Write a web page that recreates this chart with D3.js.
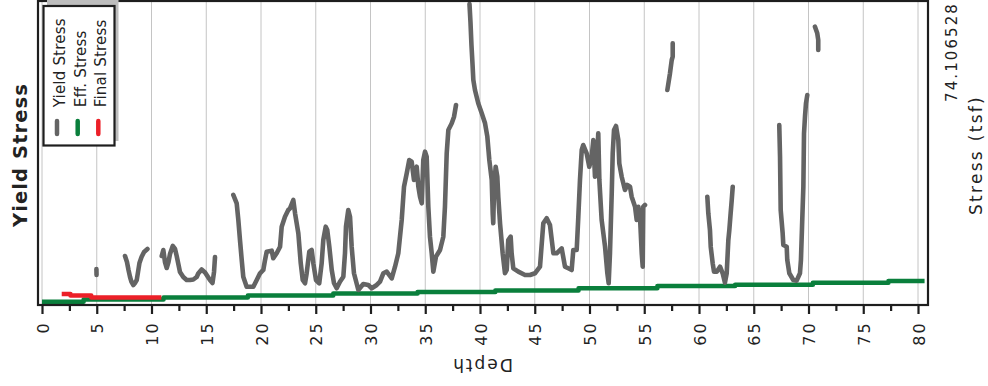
<!DOCTYPE html>
<html>
<head>
<meta charset="utf-8">
<script src="https://cdn.jsdelivr.net/npm/d3@7"></script>
<style>
  html, body { margin: 0; padding: 0; background: #fff; }
  svg { display: block; font-family: "DejaVu Sans", sans-serif; }
</style>
</head>
<body>
<svg id="chart" width="988" height="386"></svg>
<script>
// Depth (horizontal) vs stress (vertical) profile, drawn in a turned layout.
const depthTicks = [0, 5, 10, 15, 20, 25, 30, 35, 40, 45, 50, 55, 60, 65, 70, 75, 80];
const depthMinorTicks = [2.5, 7.5, 12.5, 17.5, 22.5, 27.5, 32.5, 37.5, 42.5, 47.5, 52.5, 57.5, 62.5, 67.5, 72.5, 77.5];
const stressMax = 74.106528;
const stressTickLabels = ["74.106528"];

// Yield stress trace; null marks a break in the record.
const yieldDepth = [
  4.97, 4.98, null,
  7.58, 7.76, 7.90, 8.04, 8.17, 8.34, 8.49, 8.65, 8.77, 8.90, 9.09, 9.32, 9.63, null,
  10.93, 11.08, 11.23, 11.39, 11.55, 11.69, 11.94, 12.15, 12.30, 12.47, 12.60, 12.90, 13.21, 13.52, 13.82,
  14.13, 14.27, 14.58, 14.89, 15.16, 15.34, 15.57, 15.71, 15.80, null,
  17.47, 17.78, 17.93, 18.08, 18.24, 18.38, 18.69, 19.30, 19.61, 19.91, 20.21, 20.37, 20.52, 20.98, 21.12,
  21.43, 21.74, 21.89, 22.19, 22.49, 22.65, 22.95, 23.11, 23.41, 23.63, 23.81, 24.02, 24.17, 24.41, 24.63,
  24.78, 25.02, 25.32, 25.54, 25.69, 25.91, 26.05, 26.24, 26.46, 26.67, 26.91, 27.21, 27.52, 27.67, 27.76,
  27.97, 28.13, 28.28, 28.49, 28.89, 29.34, 29.80, 30.11, 30.57, 30.87, 31.17, 31.48, 31.94, 32.24, 32.54,
  32.85, 33.06, 33.31, 33.54, 33.76, 33.97, 34.22, 34.37, 34.52, 34.68, 34.82, 34.98, 35.13, 35.28, 35.43,
  35.59, 35.74, 35.98, 36.35, 36.65, 36.80, 36.96, 37.11, 37.42, 37.63, 37.81, null,
  39.04, 39.13, 39.22, 39.32, 39.39, 39.54, 39.84, 40.16, 40.46, 40.67, 40.85, 41.07, 41.16, 41.21, 41.28,
  41.43, 41.58, 41.67, 41.83, 42.07, 42.28, 42.44, 42.58, 42.80, 42.89, 43.04, 43.50, 44.11, 44.57, 45.02,
  45.48, 45.78, 46.09, 46.39, 46.70, 47.00, 47.46, 47.76, 48.06, 48.37, 48.52, 48.83, 48.98, 49.13, 49.29,
  49.43, 49.74, 49.98, 50.20, 50.35, 50.50, 50.66, 50.80, 50.90, 51.11, 51.42, 51.63, 51.75, 51.87, 52.03,
  52.12, 52.24, 52.42, 52.63, 52.72, 52.94, 53.24, 53.45, 53.70, 53.85, 54.16, 54.31, 54.46, 54.61, 54.77,
  54.86, 54.91, 55.07, null,
  57.11, 57.35, 57.51, 57.60, 57.60, null,
  60.76, 60.85, 61.00, 61.07, 61.25, 61.37, 61.62, 61.92, 62.16, 62.37, 62.53, 62.68, 62.77, 62.89, 62.99,
  63.08, null,
  67.33, 67.40, 67.46, 67.64, 67.70, 68.01, 68.06, 68.25, 68.61, 68.92, 69.22, 69.31, 69.41, 69.53, 69.59,
  69.68, 69.77, 69.89, null,
  70.59, 70.80, 70.89, 70.89
];
const yieldStress = [
  8.2, 6.7, null,
  11.44, 9.95, 7.96, 6.22, 5.00, 4.23, 4.73, 5.47, 7.46, 9.70, 11.19, 12.44, 13.18, null,
  11.44, 12.93, 9.95, 8.46, 9.95, 11.94, 13.93, 13.18, 11.44, 9.20, 7.46, 6.22, 5.47, 5.47, 5.60,
  6.22, 7.09, 8.08, 7.34, 6.22, 5.47, 4.73, 7.46, 11.19, null,
  26.61, 24.55, 20.39, 15.42, 10.45, 6.29, 3.80, 3.80, 5.47, 7.14, 7.96, 10.45, 12.51, 12.76, 10.87,
  12.11, 13.75, 18.73, 21.21, 22.88, 23.30, 25.37, 22.06, 17.08, 9.62, 5.47, 4.65, 7.14, 12.51, 12.93,
  9.62, 5.47, 4.65, 9.62, 15.42, 18.73, 17.91, 13.75, 7.96, 4.65, 3.41, 5.05, 6.29, 12.11, 18.73,
  22.88, 21.21, 13.75, 7.14, 2.98, 4.48, 4.23, 3.41, 4.23, 5.05, 7.14, 7.54, 5.89, 8.78, 12.11,
  20.39, 28.67, 32.01, 35.31, 34.89, 30.34, 33.65, 28.67, 26.19, 24.55, 35.31, 37.38, 36.13, 23.70, 16.24,
  12.11, 7.54, 11.27, 12.93, 16.24, 23.70, 36.98, 42.78, 44.44, 46.08, 48.99, null,
  74.106528, 69.63, 63.91, 58.94, 55.21, 52.72, 49.42, 46.93, 44.44, 41.11, 35.31, 30.34, 22.06, 19.57, 27.85,
  33.65, 31.16, 26.19, 19.57, 12.11, 7.14, 7.96, 15.42, 16.24, 12.11, 8.38, 7.54, 6.71, 6.71, 7.14,
  8.78, 19.57, 20.82, 19.15, 12.11, 12.11, 13.35, 8.78, 8.38, 7.96, 12.93, 12.93, 21.21, 30.34, 37.80,
  39.04, 36.98, 33.65, 36.13, 40.29, 31.16, 33.65, 41.95, 30.34, 20.39, 13.75, 7.14, 4.65, 12.11, 27.03,
  36.98, 42.78, 43.77, 40.29, 34.49, 31.16, 27.85, 29.10, 28.67, 26.19, 23.70, 20.39, 23.70, 21.21, 12.11,
  8.78, 23.70, 24.12, null,
  52.72, 56.88, 60.18, 61.00, 64.34, null,
  26.19, 22.06, 17.91, 13.75, 9.62, 7.54, 7.54, 8.78, 7.14, 4.80, 7.14, 15.42, 17.91, 22.06, 25.37,
  28.67, null,
  44.02, 36.13, 22.88, 17.08, 14.18, 13.75, 10.45, 7.14, 5.47, 5.30, 7.14, 10.45, 18.73, 28.67, 41.95,
  46.08, 49.42, 51.48, null,
  68.46, 66.82, 65.16, 62.67
];

// Effective stress, stepped by layer.
const effDepth  = [0, 3.8, 11.1, 18.8, 26.6, 34.3, 41.4, 49.0, 56.2, 63.3, 70.4, 77.3, 80.6];
const effStress = [0.07, 0.62, 1.12, 1.62, 2.11, 2.49, 2.86, 3.41, 3.98, 4.30, 4.80, 5.22, 5.22];

// Final stress over the loaded zone.
const finalDepth  = [1.8, 2.6, 4.5, 10.9];
const finalStress = [1.99, 1.62, 1.12, 1.12];

const legendItems = [
  { label: "Yield Stress", color: "#646464" },
  { label: "Eff. Stress",  color: "#0a7f3c" },
  { label: "Final Stress", color: "#ec2028" }
];

const svg = d3.select("#chart");

const frame = { left: 38, right: 928, top: 1, bottom: 305 };
const x = d3.scaleLinear().domain([0, 80]).range([42, 918]);
const y = d3.scaleLinear().domain([0, stressMax]).range([302, 4]);

// Grid lines at each major depth tick
svg.append("g")
  .selectAll("line")
  .data(depthTicks)
  .join("line")
  .attr("x1", d => x(d)).attr("x2", d => x(d))
  .attr("y1", frame.top).attr("y2", frame.bottom)
  .attr("stroke", "#c4c4c4")
  .attr("stroke-width", 1);

// Lines
function series(depths, values) {
  return depths.map((d, i) => ({ d, v: values[i] }));
}
const line = d3.line()
  .defined(p => p.d !== null && p.v !== null)
  .x(p => x(p.d))
  .y(p => y(p.v));
const stepLine = d3.line()
  .x(p => x(p.d))
  .y(p => y(p.v))
  .curve(d3.curveStepAfter);

svg.append("path")
  .datum(series(effDepth, effStress))
  .attr("d", stepLine)
  .attr("fill", "none")
  .attr("stroke", legendItems[1].color)
  .attr("stroke-width", 4.5)
  .attr("stroke-linejoin", "round");

svg.append("path")
  .datum(series(finalDepth, finalStress))
  .attr("d", stepLine)
  .attr("fill", "none")
  .attr("stroke", legendItems[2].color)
  .attr("stroke-width", 4.5)
  .attr("stroke-linejoin", "round");

svg.append("path")
  .datum(series(yieldDepth, yieldStress))
  .attr("d", line)
  .attr("fill", "none")
  .attr("stroke", legendItems[0].color)
  .attr("stroke-width", 4.6)
  .attr("stroke-linejoin", "round")
  .attr("stroke-linecap", "round");

// Plot frame
svg.append("rect")
  .attr("x", frame.left).attr("y", frame.top)
  .attr("width", frame.right - frame.left)
  .attr("height", frame.bottom - frame.top)
  .attr("fill", "none")
  .attr("stroke", "#1e1e1e")
  .attr("stroke-width", 2.2);

// Depth axis (major ticks with labels, minor ticks without)
const depthAxis = svg.append("g")
  .attr("transform", `translate(0,${frame.bottom})`)
  .call(d3.axisBottom(x).tickValues(depthTicks).tickSize(9).tickSizeOuter(0).tickFormat(d3.format("d")));
depthAxis.select(".domain").remove();
depthAxis.selectAll(".tick line").attr("stroke", "#1e1e1e").attr("stroke-width", 2.2);
depthAxis.selectAll(".tick text")
  .attr("font-family", "DejaVu Sans, sans-serif")
  .attr("font-size", 16)
  .attr("letter-spacing", "2.2px")
  .attr("fill", "#222")
  .attr("text-anchor", "end")
  .attr("dy", null)
  .attr("y", null)
  .attr("transform", "translate(6,16) rotate(-90)");

const minorAxis = svg.append("g")
  .attr("transform", `translate(0,${frame.bottom})`)
  .call(d3.axisBottom(x).tickValues(depthMinorTicks).tickSize(6).tickSizeOuter(0).tickFormat(""));
minorAxis.select(".domain").remove();
minorAxis.selectAll(".tick line").attr("stroke", "#1e1e1e").attr("stroke-width", 2.2);

// Axis titles
svg.append("text")
  .attr("transform", "translate(482,358.5) rotate(180)")
  .attr("text-anchor", "middle")
  .attr("font-size", 17)
  .attr("letter-spacing", "2px")
  .attr("fill", "#222")
  .text("Depth");

svg.append("text")
  .attr("transform", "translate(981.5,155) rotate(-90)")
  .attr("text-anchor", "middle")
  .attr("font-size", 17)
  .attr("letter-spacing", "2.3px")
  .attr("fill", "#222")
  .text("Stress (tsf)");

svg.selectAll(".stress-tick")
  .data(stressTickLabels)
  .join("text")
  .attr("class", "stress-tick")
  .attr("transform", "translate(956.5,102) rotate(-90)")
  .attr("text-anchor", "start")
  .attr("font-size", 15)
  .attr("letter-spacing", "2.1px")
  .attr("fill", "#222")
  .text(d => d);

// Chart title
svg.append("text")
  .attr("transform", "translate(26.5,155) rotate(-90)")
  .attr("text-anchor", "middle")
  .attr("font-size", 19.5)
  .attr("font-weight", "bold")
  .attr("letter-spacing", "1.1px")
  .attr("fill", "#222")
  .text("Yield Stress");

// Legend with offset shadow
const legend = svg.append("g");
legend.append("rect")
  .attr("x", 47).attr("y", 0).attr("width", 71.5).attr("height", 141)
  .attr("fill", "#bdbdbd");
legend.append("rect")
  .attr("x", 43.5).attr("y", 6).attr("width", 71).attr("height", 139.5)
  .attr("fill", "#fff")
  .attr("stroke", "#1e1e1e")
  .attr("stroke-width", 2.2);

const rowX = [57, 77.7, 98.3];
const entries = legend.selectAll("g.entry")
  .data(legendItems)
  .join("g")
  .attr("class", "entry");
entries.append("line")
  .attr("x1", (d, i) => rowX[i]).attr("x2", (d, i) => rowX[i])
  .attr("y1", 121).attr("y2", 134)
  .attr("stroke", d => d.color)
  .attr("stroke-width", 4.5)
  .attr("stroke-linecap", "round");
entries.append("text")
  .attr("transform", (d, i) => `translate(${rowX[i] + 8},107.3) rotate(-90)`)
  .attr("text-anchor", "start")
  .attr("font-size", 15)
  .attr("letter-spacing", "0.2px")
  .attr("fill", "#222")
  .text(d => d.label);
</script>
</body>
</html>
